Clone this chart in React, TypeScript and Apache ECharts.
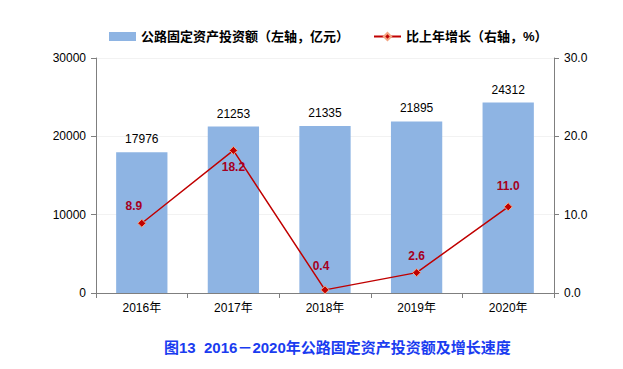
import React, { useEffect, useRef } from "react";
import * as echarts from "echarts";

const categories = ["2016年", "2017年", "2018年", "2019年", "2020年"];
const investment = [17976, 21253, 21335, 21895, 24312];
const growth = [8.9, 18.2, 0.4, 2.6, 11.0];
const leftTicks = [0, 10000, 20000, 30000];
const rightTicks = [0, 10, 20, 30];

const FONT = "'Liberation Sans', Arial, 'Noto Sans CJK SC', sans-serif";

export default function App() {
  const ref = useRef<HTMLDivElement>(null);
  useEffect(() => {
    if (!ref.current) return;
    const chart = echarts.init(ref.current, undefined, { renderer: "svg" });
    const lineLabelPos = ["top", "bottom", "top", "top", "top"];
    const lineLabelDx = [-8, 0, -4, 0, 0];
    const lineLabelDist = [7, 6, 13, 6, 10];
    chart.setOption({
      animation: false,
      textStyle: { fontFamily: FONT },
      title: {
        text: "图13  2016－2020年公路固定资产投资额及增长速度",
        left: 159,
        top: 335,
        textStyle: { color: "#1a3cf0", fontSize: 15, fontWeight: "bold", fontFamily: FONT },
      },
      legend: {
        top: 25,
        left: 104,
        itemGap: 24,
        itemWidth: 27,
        itemHeight: 9,
        textStyle: { fontSize: 13, fontWeight: "bold", color: "#000", fontFamily: FONT },
        data: [
          { name: "公路固定资产投资额（左轴，亿元）", icon: "rect" },
          { name: "比上年增长（右轴，%）" },
        ],
      },
      grid: { left: 96, right: 69, top: 58, bottom: 76 },
      xAxis: {
        type: "category",
        data: categories,
        axisLine: { lineStyle: { color: "#7f7f7f" } },
        axisTick: { show: true, alignWithLabel: false, lineStyle: { color: "#7f7f7f" } },
        axisLabel: { color: "#000", fontSize: 12, margin: 9 },
      },
      yAxis: [
        {
          type: "value",
          min: 0,
          max: 30000,
          interval: 10000,
          axisLine: { show: true, lineStyle: { color: "#7f7f7f" } },
          axisTick: { show: true, length: 5, lineStyle: { color: "#7f7f7f" } },
          axisLabel: { color: "#000", fontSize: 12, margin: 10, formatter: (v: number) => String(v) },
          splitLine: { show: true, lineStyle: { color: "#f2f2f2" } },
        },
        {
          type: "value",
          min: 0,
          max: 30,
          interval: 10,
          axisLine: { show: true, lineStyle: { color: "#7f7f7f" } },
          axisTick: { show: true, length: 5, lineStyle: { color: "#7f7f7f" } },
          axisLabel: { color: "#000", fontSize: 12, margin: 10, formatter: (v: number) => v.toFixed(1) },
          splitLine: { show: false },
        },
      ],
      series: [
        {
          name: "公路固定资产投资额（左轴，亿元）",
          type: "bar",
          data: investment,
          barWidth: "56%",
          itemStyle: { color: "#8eb4e3" },
          label: { show: true, position: "top", color: "#000", fontSize: 12, distance: 7 },
        },
        {
          name: "比上年增长（右轴，%）",
          type: "line",
          yAxisIndex: 1,
          data: growth.map((v, i) => ({
            value: v,
            label: { position: lineLabelPos[i], distance: lineLabelDist[i], offset: [lineLabelDx[i], 0] },
          })),
          symbol: "diamond",
          symbolSize: 8,
          lineStyle: { color: "#c00000", width: 1.5 },
          itemStyle: { color: "#c00000", borderColor: "#f4a582", borderWidth: 1 },
          label: {
            show: true,
            color: "#a50021",
            fontWeight: "bold",
            fontSize: 12,
            formatter: (p: any) => Number(p.value).toFixed(1),
          },
        },
      ],
    });
    return () => chart.dispose();
  }, []);
  return <div ref={ref} style={{ width: 623, height: 369, position: "absolute", left: 0, top: 0 }} />;
}
